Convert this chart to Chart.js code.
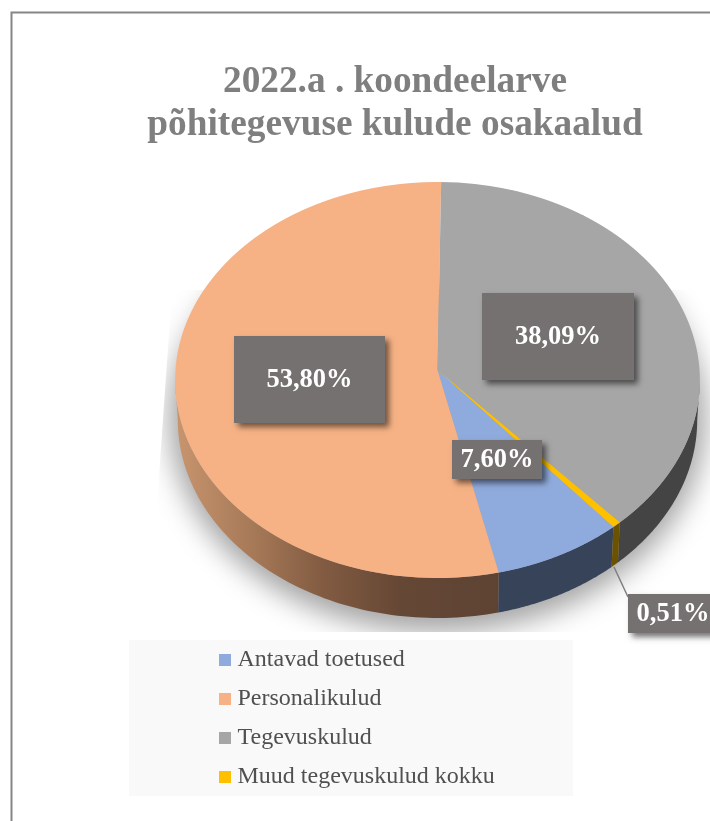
<!DOCTYPE html>
<html><head><meta charset="utf-8">
<style>html,body{margin:0;padding:0;background:#fff;overflow:hidden}canvas{display:block}</style>
<script src="https://cdn.jsdelivr.net/npm/chart.js@4"></script>
</head><body><canvas id="c" width="710" height="821" style="width:710px;height:821px"></canvas>
<script>
const titleLines = ['2022.a . koondeelarve', 'põhitegevuse kulude osakaalud'];
const categories = ['Antavad toetused', 'Personalikulud', 'Tegevuskulud', 'Muud tegevuskulud kokku'];
const shares = [7.60, 53.80, 38.09, 0.51];
const sliceColors = ['#8faadc', '#f6b285', '#a6a6a6', '#ffc000'];
const wallColors = ['#364358', null, '#444444', '#6b5200'];

const FONT = '"Liberation Serif", serif';
// perspective of the tilted disc
const APEX_Y = 370, PERSP_C = -0.0505, PERSP_P = 197.5, DEPTH = 40, WALL_SCALE = 0.99;
const labelBoxes = [
  {x: 452, y: 440, w: 90, h: 39},
  {x: 234, y: 336, w: 151, h: 87},
  {x: 482, y: 293, w: 152, h: 87},
  {x: 628, y: 594, w: 90, h: 39}
];
const pct = v => v.toFixed(2).replace('.', ',') + '%';

const pie3d = {
  id: 'pie3d',
  beforeDraw(chart) {
    const c = chart.ctx;
    c.save();
    c.fillStyle = '#fff'; c.fillRect(0, 0, 710, 821);
    c.strokeStyle = '#868686'; c.lineWidth = 2;
    c.beginPath(); c.moveTo(11.5, 821); c.lineTo(11.5, 12.5); c.lineTo(710, 12.5); c.stroke();
    c.fillStyle = '#f9f9f9'; c.fillRect(129, 640, 444, 156);
    c.restore();
  },
  afterLayout(chart) {
    const cx = 437.5, r = 262;
    chart.chartArea = {left: cx - r, right: cx + r, top: APEX_Y - r, bottom: APEX_Y + r, width: 2 * r, height: 2 * r};
    const t = chart.titleBlock;
    t.left = 95; t.right = 695; t.width = 600; t.top = 61.5; t.bottom = 161.5; t.height = 100;
    const l = chart.legend;
    l.left = 224.5 - l.options.labels.padding; l.top = 641; l.right = l.left + 420; l.bottom = 900;
  },
  beforeDatasetDraw(chart, args) {
    const c = chart.ctx, meta = args.meta, a0 = meta.data[0];
    const cx = a0.x, cy = a0.y, R = a0.outerRadius;
    const project = (t, s, dy) => {
      const X = Math.cos(t), Y = Math.sin(t), den = 1 + PERSP_C * Y;
      return [cx + s * R * X / den, cy + PERSP_P * Y / den + dy];
    };
    // soft shadow
    c.save();
    c.beginPath(); c.moveTo(172, 290); c.lineTo(158, 490); c.lineTo(158, 632); c.lineTo(710, 632); c.lineTo(710, 290); c.closePath(); c.clip();
    c.filter = 'blur(14px)';
    c.fillStyle = 'rgba(0,0,0,0.36)';
    c.beginPath(); c.ellipse(cx, cy + 48, R + 6, 214, 0, 0, Math.PI * 2); c.fill();
    c.restore();
    // side walls
    const grad = c.createLinearGradient(175, 0, 498, 0);
    [[0, '#c8956e'], [.25, '#a57857'], [.45, '#835c42'], [.7, '#654735'], [1, '#5e4333']].forEach(s => grad.addColorStop(s[0], s[1]));
    const LO = 0.05, HI = Math.PI - 0.05;
    meta.data.forEach((arc, i) => {
      for (let k = -1; k <= 1; k++) {
        const a = Math.max(arc.startAngle + k * 2 * Math.PI, LO), b = Math.min(arc.endAngle + k * 2 * Math.PI, HI);
        if (b <= a) continue;
        c.beginPath();
        const n = 80;
        for (let j = 0; j <= n; j++) {
          const p = project(a + (b - a) * j / n, 1, 0);
          j ? c.lineTo(p[0], p[1]) : c.moveTo(p[0], p[1]);
        }
        for (let j = n; j >= 0; j--) {
          const p = project(a + (b - a) * j / n, WALL_SCALE, DEPTH);
          c.lineTo(p[0], p[1]);
        }
        c.closePath();
        c.fillStyle = wallColors[i] || grad;
        c.fill();
      }
    });
    // top face: the library's arcs, redrawn through a perspective made of thin strips
    const yTop = Math.floor(project(-Math.PI / 2, 1, 0)[1]) - 1, yBot = Math.ceil(project(Math.PI / 2, 1, 0)[1]) + 1;
    for (let y = yTop; y < yBot; y += 2) {
      const u = (y + 1 - cy) / PERSP_P, Yc = u / (1 - PERSP_C * u), den = 1 + PERSP_C * Yc;
      c.save();
      c.beginPath(); c.rect(0, y, 710, 2); c.clip();
      c.translate(cx, y + 1);
      c.scale(1 / den, PERSP_P / (den * den) / R);
      c.translate(-cx, -(cy + Yc * R));
      meta.controller.draw();
      c.restore();
    }
    return false;
  },
  afterDatasetsDraw(chart) {
    const c = chart.ctx;
    c.save();
    c.strokeStyle = '#7f7f7f'; c.lineWidth = 1.5;
    c.beginPath(); c.moveTo(614, 567); c.lineTo(628, 597); c.stroke();
    shares.forEach((v, i) => {
      const b = labelBoxes[i];
      c.save();
      c.shadowColor = 'rgba(0,0,0,0.55)'; c.shadowBlur = 6; c.shadowOffsetX = 4; c.shadowOffsetY = 4;
      c.fillStyle = '#767171'; c.fillRect(b.x, b.y, b.w, b.h);
      c.restore();
      c.fillStyle = '#fff'; c.font = 'bold 26.5px ' + FONT;
      c.textAlign = 'center'; c.textBaseline = 'middle';
      const tx = i === 3 ? b.x + 45 : b.x + b.w / 2;
      c.fillText(pct(v), tx, b.y + b.h / 2 + 1);
    });
    c.restore();
  }
};

new Chart(document.getElementById('c'), {
  type: 'pie',
  plugins: [pie3d],
  data: {labels: categories, datasets: [{data: shares, backgroundColor: sliceColors, borderWidth: 0, clip: false}]},
  options: {
    responsive: false, animation: false, events: [],
    rotation: 139.8,
    plugins: {
      tooltip: {enabled: false},
      title: {display: true, text: titleLines, color: '#7f7f7f', padding: 0,
        font: {family: FONT, weight: 'bold', size: 37.3, lineHeight: 1.14}},
      legend: {display: true, position: 'right', align: 'start',
        labels: {boxWidth: 1, boxHeight: 1, padding: 7, color: '#505050',
          font: {family: FONT, size: 24, lineHeight: 1.3333},
          generateLabels: ch => categories.map((t, i) => ({text: [t], fillStyle: sliceColors[i], strokeStyle: sliceColors[i], lineWidth: 11, index: i, fontColor: '#505050'}))}}
    }
  }
});
</script></body></html>
